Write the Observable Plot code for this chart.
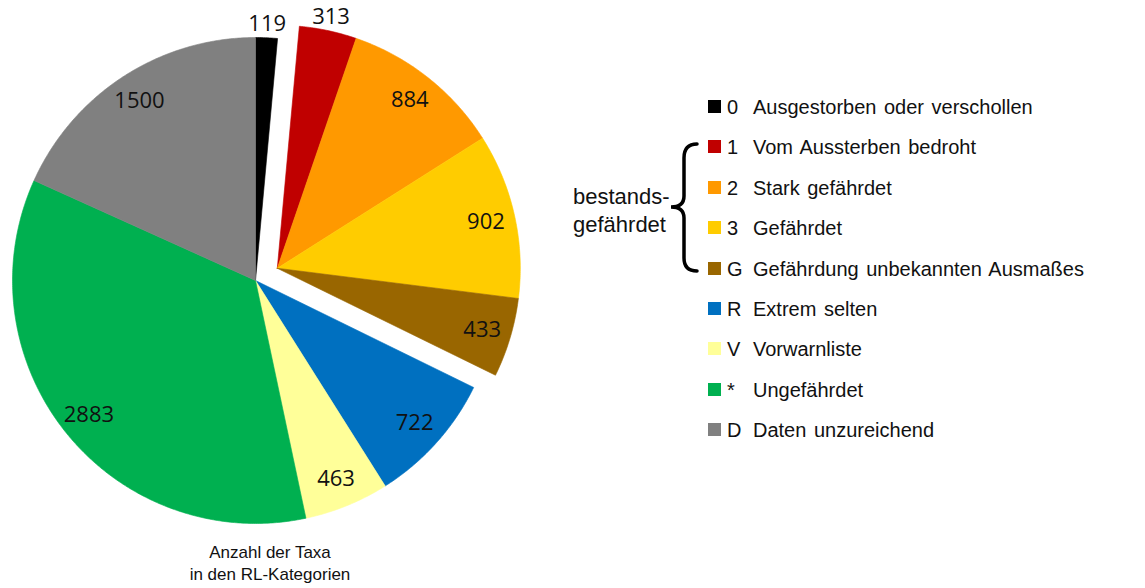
<!DOCTYPE html>
<html>
<head>
<meta charset="utf-8">
<script src="https://cdn.jsdelivr.net/npm/d3@7"></script>
<script src="https://cdn.jsdelivr.net/npm/@observablehq/plot@0.6"></script>
<style>
  html, body { margin: 0; padding: 0; background: #fff; }
  #wrap { position: relative; width: 1145px; height: 588px; overflow: hidden; font-family: "Liberation Sans", Arial, sans-serif; }
  #wrap > svg.plot { position: absolute; left: 0; top: 0; }
  .caption { position: absolute; left: 170px; width: 200px; text-align: center; font-size: 17px; color: #111; line-height: 22px; }
  .leg { position: absolute; left: 708px; height: 24px; font-size: 20px; color: #111; white-space: nowrap; }
  .leg .sw { position: absolute; left: 0; top: 5px; width: 13px; height: 13px; }
  .leg .cd { position: absolute; left: 19px; top: 0; line-height: 24px; }
  .leg .lb { position: absolute; left: 45px; top: 0; line-height: 24px; word-spacing: 2px; }
  .grp { position: absolute; left: 573px; font-size: 22px; color: #111; line-height: 28px; }
</style>
</head>
<body>
<div id="wrap"></div>
<script>
// ---- data ----
const codes  = ["0", "1", "2", "3", "G", "R", "V", "*", "D"];
const values = [119, 313, 884, 902, 433, 722, 463, 2883, 1500];
const names  = [
  "Ausgestorben oder verschollen",
  "Vom Aussterben bedroht",
  "Stark gefährdet",
  "Gefährdet",
  "Gefährdung unbekannten Ausmaßes",
  "Extrem selten",
  "Vorwarnliste",
  "Ungefährdet",
  "Daten unzureichend"
];
const colors = ["#000000", "#c00000", "#ff9900", "#ffcc00", "#996600", "#0070c0", "#ffff99", "#00b050", "#808080"];
const exploded = ["1", "2", "3", "G"];
const groupLabel = ["bestands-", "gefährdet"];
const captionLines = ["Anzahl der Taxa", "in den RL-Kategorien"];

// ---- layout ----
const W = 1145, H = 588;
const cx = 255, cy = 280, Rpx = 243;   // pie centre / radius in px
const explodePx = 25;

const total = d3.sum(values);
const rad = (deg) => deg * Math.PI / 180;
let acc = 0;
const slices = codes.map((c, i) => {
  const a0 = acc / total * 360;
  acc += values[i];
  const a1 = acc / total * 360;
  return { code: c, value: values[i], a0, a1 };
});
// group explode direction: bisector of all exploded slices together
const ex = slices.filter(s => exploded.includes(s.code));
const gMid = (d3.min(ex, s => s.a0) + d3.max(ex, s => s.a1)) / 2;
const off = explodePx / Rpx;
const gdx = off * Math.sin(rad(gMid)), gdy = off * Math.cos(rad(gMid));

const pts = [];
const labels = [];
for (const s of slices) {
  const isEx = exploded.includes(s.code);
  const ox = isEx ? gdx : 0, oy = isEx ? gdy : 0;
  pts.push({ code: s.code, x: ox, y: oy });
  const n = Math.max(2, Math.ceil((s.a1 - s.a0) / 0.5));
  for (let k = 0; k <= n; k++) {
    const a = rad(s.a0 + (s.a1 - s.a0) * k / n);
    pts.push({ code: s.code, x: ox + Math.sin(a), y: oy + Math.cos(a) });
  }
  pts.push({ code: s.code, x: ox, y: oy });
  const mid = rad((s.a0 + s.a1) / 2);
  const span = s.a1 - s.a0;
  const lr = span < 15 ? 1 + 14 / Rpx : 0.88;
  labels.push({ code: s.code, text: String(s.value), x: ox + lr * Math.sin(mid), y: oy + lr * Math.cos(mid) });
}

const chart = Plot.plot({
  width: W, height: H, margin: 0,
  x: { domain: [-cx / Rpx, (W - cx) / Rpx], axis: null },
  y: { domain: [-(H - cy) / Rpx, cy / Rpx], axis: null },
  color: { domain: codes, range: colors },
  marks: [
    Plot.line(pts, { x: "x", y: "y", z: "code", fill: "code", stroke: "code", strokeWidth: 0.6, curve: "linear" }),
    Plot.text(labels, { x: "x", y: "y", text: "text", fontSize: 22, fontFamily: "'Open Sans', sans-serif", fill: "#111" })
  ]
});
chart.classList.add("plot");
const wrap = document.getElementById("wrap");
wrap.appendChild(chart);

// caption
captionLines.forEach((t, i) => {
  const d = document.createElement("div");
  d.className = "caption";
  d.style.top = (542 + i * 22) + "px";
  d.textContent = t;
  wrap.appendChild(d);
});

// legend
const rowTop = 107, rowStep = 40.4;
codes.forEach((c, i) => {
  const d = document.createElement("div");
  d.className = "leg";
  d.style.top = (rowTop + i * rowStep - 12) + "px";
  d.innerHTML = `<span class="sw" style="background:${colors[i]}"></span><span class="cd"></span><span class="lb"></span>`;
  d.querySelector(".cd").textContent = c;
  d.querySelector(".lb").textContent = names[i];
  wrap.appendChild(d);
});

// group label + brace
groupLabel.forEach((t, i) => {
  const d = document.createElement("div");
  d.className = "grp";
  d.style.top = (183 + i * 28) + "px";
  d.textContent = t;
  wrap.appendChild(d);
});
const ns = "http://www.w3.org/2000/svg";
const b = document.createElementNS(ns, "svg");
b.setAttribute("width", 40); b.setAttribute("height", 150);
b.style.position = "absolute"; b.style.left = "665px"; b.style.top = "138px";
const p = document.createElementNS(ns, "path");
// brace from y=5 to y=134 (abs 143..272), tip at y=69 (abs 207)
p.setAttribute("d", "M32,6 Q19,6 19,20 L19,58 Q19,69 6,69 Q19,69 19,80 L19,120 Q19,133 32,133");
p.setAttribute("fill", "none"); p.setAttribute("stroke", "#000"); p.setAttribute("stroke-width", 3.5);
p.setAttribute("stroke-linecap", "round");
b.appendChild(p);
wrap.appendChild(b);
</script>
</body>
</html>
